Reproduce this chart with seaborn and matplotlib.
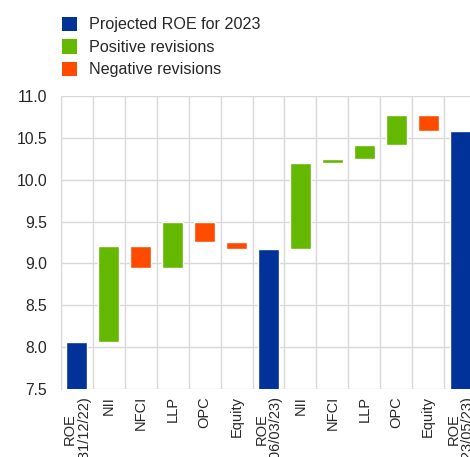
import numpy as np
import pandas as pd
import matplotlib
matplotlib.use("Agg")
import matplotlib.pyplot as plt
import seaborn as sns
from matplotlib.patches import Patch

labels = ["ROE\n(31/12/22)", "NII", "NFCI", "LLP", "OPC", "Equity",
          "ROE\n(06/03/23)", "NII", "NFCI", "LLP", "OPC", "Equity",
          "ROE\n(23/05/23)"]
kinds = ["total", "pos", "neg", "pos", "neg", "neg",
         "total", "pos", "pos", "pos", "pos", "neg", "total"]
# ROE levels for the totals, revisions (pp) for the others
values = [8.06, 1.15, -0.26, 0.55, -0.25, -0.08,
          9.17, 1.03, 0.05, 0.17, 0.35, -0.19, 10.58]

colors = {"total": "#003299", "pos": "#65B800", "neg": "#FF4B00"}
names = {"total": "Projected ROE for 2023", "pos": "Positive revisions",
         "neg": "Negative revisions"}

# waterfall bottoms / heights
bottoms, heights = [], []
level = 0.0
for k, v in zip(kinds, values):
    if k == "total":
        bottoms.append(0.0)
        heights.append(v)
        level = v
    else:
        bottoms.append(min(level, level + v))
        heights.append(abs(v))
        level += v

df = pd.DataFrame({"pos": range(len(labels)), "kind": kinds,
                   "bottom": bottoms, "height": heights})

sns.set_style("white")
plt.rcParams["font.family"] = ["Liberation Sans", "DejaVu Sans"]

fig = plt.figure(figsize=(4.70, 4.57), dpi=100)
ax = fig.add_axes([61 / 470, 68 / 457, 415 / 470, 293 / 457])

order = list(range(len(labels)))
for k in ["total", "pos", "neg"]:
    sub = df[df["kind"] == k]
    sns.barplot(data=sub, x="pos", y="height", order=order, ax=ax,
                bottom=sub["bottom"].to_numpy(), color=colors[k],
                saturation=1, width=0.66, errorbar=None, zorder=3)

ax.set_ylim(7.5, 11.0)
ax.set_xlim(-0.5, len(labels) - 0.5)
ax.set_yticks(np.arange(7.5, 11.01, 0.5))
ax.set_yticklabels([f"{t:.1f}" for t in np.arange(7.5, 11.01, 0.5)], fontsize=11.3)
ax.set_xticks(order)
ax.set_xticklabels(labels, rotation=90, fontsize=10.5, va="top", ha="center",
                   linespacing=0.95)
ax.set_xticks(np.arange(-0.5, len(labels), 1), minor=True)
ax.set_xlabel("")
ax.set_ylabel("")

ax.grid(True, axis="y", which="major", color="#d9d9d9", linewidth=1, zorder=0)
ax.grid(True, axis="x", which="minor", color="#d9d9d9", linewidth=1, zorder=0)
ax.grid(False, axis="x", which="major")
ax.tick_params(axis="both", which="both", length=0)
ax.tick_params(axis="y", pad=10)
ax.tick_params(axis="x", pad=5)
for s in ["top", "right", "bottom"]:
    ax.spines[s].set_visible(False)
ax.spines["left"].set_color("#d9d9d9")
ax.set_axisbelow(True)

handles = [Patch(facecolor=colors[k], edgecolor="none", label=names[k])
           for k in ["total", "pos", "neg"]]
fig.legend(handles=handles, loc="upper left", bbox_to_anchor=(0.108, 0.988),
           frameon=False, fontsize=11.6, handlelength=0.95, handleheight=1.0,
           handletextpad=0.75, labelspacing=0.42, borderaxespad=0.3)

fig.savefig("out.png", dpi=100)
